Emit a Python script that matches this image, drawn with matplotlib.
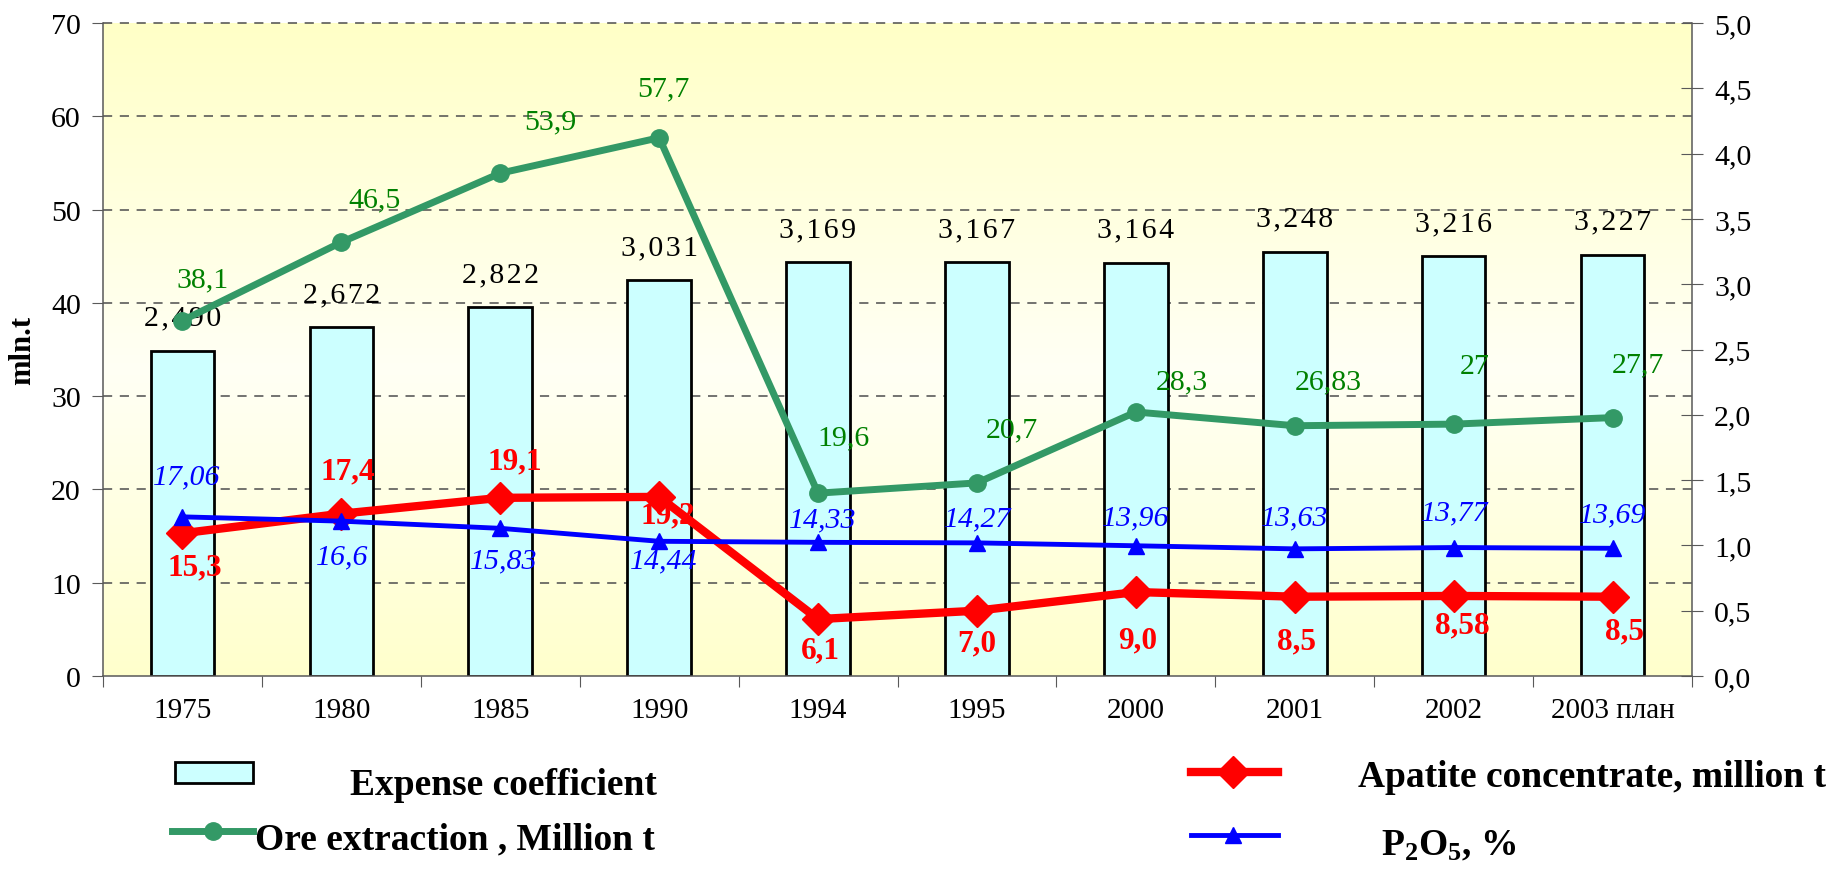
import numpy as np
import matplotlib
matplotlib.use('Agg')
import matplotlib.pyplot as plt
import matplotlib.transforms as mtransforms
from matplotlib.lines import Line2D
from matplotlib.patches import Rectangle

plt.rcParams['font.family'] = ['Liberation Serif', 'DejaVu Serif']
plt.rcParams['mathtext.fontset'] = 'custom'
plt.rcParams['mathtext.rm'] = 'Liberation Serif'
plt.rcParams['mathtext.bf'] = 'Liberation Serif:bold'

# data
years = ['1975', '1980', '1985', '1990', '1994', '1995', '2000', '2001', '2002', '2003 план']
expense = [2.490, 2.672, 2.822, 3.031, 3.169, 3.167, 3.164, 3.248, 3.216, 3.227]
expense_lbl = ['2,490', '2,672', '2,822', '3,031', '3,169', '3,167', '3,164', '3,248', '3,216', '3,227']
ore = [38.1, 46.5, 53.9, 57.7, 19.6, 20.7, 28.3, 26.83, 27, 27.7]
ore_lbl = ['38,1', '46,5', '53,9', '57,7', '19,6', '20,7', '28,3', '26,83', '27', '27,7']
apatite = [15.3, 17.4, 19.1, 19.2, 6.1, 7.0, 9.0, 8.5, 8.58, 8.5]
apatite_lbl = ['15,3', '17,4', '19,1', '19,2', '6,1', '7,0', '9,0', '8,5', '8,58', '8,5']
p2o5 = [17.06, 16.6, 15.83, 14.44, 14.33, 14.27, 13.96, 13.63, 13.77, 13.69]
p2o5_lbl = ['17,06', '16,6', '15,83', '14,44', '14,33', '14,27', '13,96', '13,63', '13,77', '13,69']

left_ticks = list(range(0, 80, 10))
right_ticks = [i / 2 for i in range(11)]

# label offsets in pixels (dx, dy up)
ore_off = [(20, 41), (33, 43), (50, 52), (4, 49), (25, 56), (35, 54), (46, 31), (34, 44), (21, 58), (25, 53)]
apa_off = [(12, -34), (6, 43), (15, 37), (9, -18), (2, -31), (0, -32), (2, -48), (2, -44), (9, -29), (12, -34)]
p2o_off = [(4, 40), (1, -35), (3, -32), (5, -19), (5, 23), (1, 25), (0, 28), (0, 31), (1, 35), (0, 34)]

W, H, DPI = 1838, 870, 100
pt = 72 / DPI

fig = plt.figure(figsize=(W / DPI, H / DPI), dpi=DPI)
ax = fig.add_axes([103 / W, 1 - 677 / H, (1692 - 103) / W, (677 - 24) / H])
ax_l = ax.twinx()
ax.yaxis.tick_right()
ax_l.yaxis.tick_left()
ax.set_zorder(1)
ax_l.set_zorder(2)
ax_l.patch.set_visible(False)

x = np.arange(len(years))

# background gradient
t = np.linspace(0, 1, 256)
w = np.clip(1 - np.abs(t - 0.47) / 0.53, 0, 1)
grad = np.zeros((256, 1, 3))
grad[:, 0, 0] = 1
grad[:, 0, 1] = 1
grad[:, 0, 2] = 0.78 + w * 0.18
ax.imshow(grad, extent=[0, 1, 0, 1], transform=ax.transAxes, aspect='auto',
          origin='lower', zorder=0)

ax.set_xlim(-0.5, len(years) - 0.5)
ax.set_ylim(0, 5)
ax_l.set_ylim(0, 70)

# grid on left-axis ticks, below the bars
tr = mtransforms.blended_transform_factory(ax.transAxes, ax_l.transData)
for v in left_ticks[1:]:
    ax.plot([0, 1], [v, v], transform=tr, color='0.3', lw=1.1,
            dashes=(6, 5), zorder=1, clip_on=False)

ax.bar(x, expense, width=0.4, color='#CCFFFF', edgecolor='black', linewidth=2, zorder=2)
for i in x:
    ax.annotate('\u200a'.join(expense_lbl[i]), (x[i], expense[i]), xytext=(0, 33 * pt),
                textcoords='offset points', ha='center', va='center', fontsize=21.5)

ax_l.plot(x, ore, color='#339966', lw=5, marker='o', ms=12.5, zorder=3)
ax_l.plot(x, apatite, color='#FF0000', lw=6, marker='D', ms=16, zorder=4)
ax_l.plot(x, p2o5, color='#0000FF', lw=3.5, marker='^', ms=12, zorder=5)

for i in x:
    ax_l.annotate(ore_lbl[i], (x[i], ore[i]), xytext=(ore_off[i][0] * pt, ore_off[i][1] * pt),
                  textcoords='offset points', ha='center', va='center', fontsize=21.5,
                  color='#008000', zorder=6)
    ax_l.annotate(apatite_lbl[i], (x[i], apatite[i]), xytext=(apa_off[i][0] * pt, apa_off[i][1] * pt),
                  textcoords='offset points', ha='center', va='center', fontsize=22.5,
                  color='#FF0000', fontweight='bold', zorder=6)
    ax_l.annotate(p2o5_lbl[i], (x[i], p2o5[i]), xytext=(p2o_off[i][0] * pt, p2o_off[i][1] * pt),
                  textcoords='offset points', ha='center', va='center', fontsize=21.5,
                  color='#0000FF', fontstyle='italic', zorder=6)

# axes, ticks
ax.set_xticks(np.arange(-0.5, len(years), 1))
ax.set_xticklabels([])
ax.set_xticks(x, minor=True)
ax.set_xticklabels(years, minor=True)
ax.tick_params(axis='x', which='major', direction='out', length=8, color='0.35')
ax.tick_params(axis='x', which='minor', length=0, pad=15, labelsize=21)

ax.set_yticks(right_ticks)
ax.set_yticklabels([f'{v:.1f}'.replace('.', ',') for v in right_ticks])
ax.tick_params(axis='y', direction='inout', length=16, pad=8, labelsize=21.5, color='0.35')

ax_l.set_yticks(left_ticks)
ax_l.set_yticklabels([str(v) for v in left_ticks])
ax_l.tick_params(axis='y', direction='out', length=8, pad=8, labelsize=21.5, color='0.35')

for s in ['top', 'left']:
    ax.spines[s].set_visible(False)
for s in ['top', 'right', 'bottom']:
    ax_l.spines[s].set_visible(False)
for sp in [ax.spines['right'], ax.spines['bottom'], ax_l.spines['left']]:
    sp.set_color('0.35')
    sp.set_linewidth(1.1)

fig.text(23 / W, 1 - 350 / H, 'mln.t', rotation=90, ha='center', va='center',
         fontsize=22, fontweight='bold')

# legend
def fx(px):
    return px / W

def fy(py):
    return 1 - py / H

fig.add_artist(Rectangle((fx(175), fy(784)), 78 / W, 21 / H, transform=fig.transFigure,
                         facecolor='#CCFFFF', edgecolor='black', lw=2))
fig.add_artist(Line2D([fx(172), fx(253)], [fy(832)] * 2, color='#339966', lw=5,
                      transform=fig.transFigure))
fig.add_artist(Line2D([fx(213)], [fy(832)], marker='o', ms=12.5, color='#339966',
                      transform=fig.transFigure))
fig.add_artist(Line2D([fx(1191), fx(1278)], [fy(773)] * 2, color='#FF0000', lw=6,
                      transform=fig.transFigure))
fig.add_artist(Line2D([fx(1233)], [fy(773)], marker='D', ms=16, color='#FF0000',
                      transform=fig.transFigure))
fig.add_artist(Line2D([fx(1191), fx(1278)], [fy(836)] * 2, color='#0000FF', lw=3.5,
                      transform=fig.transFigure))
fig.add_artist(Line2D([fx(1233)], [fy(836)], marker='^', ms=12, color='#0000FF',
                      transform=fig.transFigure))

leg_font = dict(fontsize=27, fontweight='bold', va='center', ha='left')
fig.text(fx(350), fy(786), 'Expense coefficient', **leg_font)
fig.text(fx(255), fy(840), 'Ore extraction , Million t', **leg_font)
fig.text(fx(1358), fy(778), 'Apatite concentrate, million t', **leg_font)
fig.text(fx(1381), fy(846), r'$\mathbf{P_2O_5}$, %', **leg_font)

fig.savefig('out.png', dpi=DPI)
